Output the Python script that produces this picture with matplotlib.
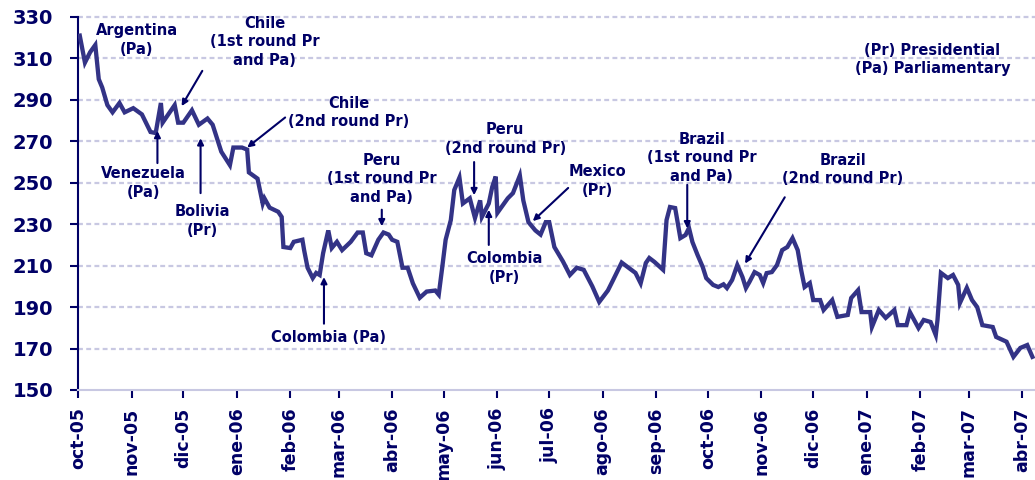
import pandas as pd
import matplotlib
matplotlib.use("Agg")
import matplotlib.pyplot as plt

# series: days since 2005-10-01 and index level
start_date = "2005-10-01"
days = [1, 4, 7, 10, 12, 14, 17, 20, 24, 27, 32, 37, 42, 45, 48, 49, 56, 58, 61, 66,
        70, 75, 78, 83, 88, 90, 95, 98, 99, 104, 107, 108, 111, 116, 118, 119, 123, 125, 130, 131,
        133, 136, 138, 140, 142, 145, 147, 150, 153, 158, 162, 165, 167, 170, 174, 177, 180, 182, 185, 188,
        191, 194, 198, 202, 207, 209, 211, 213, 216, 218, 221, 223, 227, 230, 233, 234, 238, 240, 242, 243,
        249, 252, 256, 258, 261, 265, 268, 271, 273, 276, 281, 285, 289, 293, 298, 302, 307, 310, 315, 319,
        323, 326, 329, 331, 334, 339, 341, 343, 346, 349, 352, 354, 356, 359, 362, 364, 368, 371, 374, 376,
        379, 382, 385, 387, 389, 392, 395, 397, 399, 402, 405, 408, 411, 414, 417, 419, 421, 424, 426, 430,
        432, 437, 440, 446, 448, 452, 454, 459, 460, 464, 468, 473, 475, 480, 482, 487, 490, 494, 497, 498,
        500, 504, 507, 510, 511, 515, 518, 521, 524, 530, 532, 538, 542, 546, 550, 553]
values = [321, 308, 313, 316.5, 300, 296, 287.5, 284, 288.5, 284, 286, 283, 274.5, 274, 288.5, 279, 287.5, 279, 279, 285,
          278, 281, 278, 265, 258.5, 267, 267, 266, 255, 252, 240, 242.5, 238, 236, 233.5, 219, 218.5, 221.5, 222.5, 217.5,
          209, 204, 206.5, 205.5, 216, 227, 218.5, 221.5, 217.5, 221.5, 226, 226, 216, 215, 222.5, 226, 225, 222.5, 221.5, 209,
          209, 201.5, 194.5, 197.5, 198, 196, 209, 222.5, 232, 246.5, 252.5, 240, 242.5, 233, 241.5, 233.5, 240, 248, 253, 235.5,
          242.5, 245, 253.5, 241.5, 231, 227, 225, 231, 231, 219, 212, 205.5, 209, 208, 200, 192.5, 198, 203, 211.5, 209,
          206.5, 201.5, 211.3, 213.7, 211.8, 208, 232, 238.3, 237.8, 223.3, 224.8, 228.2, 221.4, 215.1, 209.3, 204, 200.7, 199.7, 201, 199.2,
          203.1, 210.3, 204.5, 199.2, 202.1, 206.9, 205.5, 201.6, 206.4, 206.9, 210.3, 217.5, 219, 223.3, 217.5, 207.9, 199.7, 201.6, 193.4, 193.4,
          188.6, 193.4, 185.3, 186.2, 194.4, 198.2, 187.6, 187.6, 180.4, 188.6, 184.8, 188.6, 181.3, 181.3, 187.6, 179.9, 183.8, 182.8, 176.5, 183.8,
          206.5, 204, 205.5, 200.7, 192, 199.3, 193.4, 190, 181.3, 180.4, 175.6, 173.3, 166, 170.3, 171.7, 166]

tick_labels = ["oct-05", "nov-05", "dic-05", "ene-06", "feb-06", "mar-06", "abr-06", "may-06", "jun-06", "jul-06",
               "ago-06", "sep-06", "oct-06", "nov-06", "dic-06", "ene-07", "feb-07", "mar-07", "abr-07"]
y_ticks = [150, 170, 190, 210, 230, 250, 270, 290, 310, 330]

navy = "#000066"
line_col = "#333386"
grid_col = "#c8c8e2"

start = pd.Timestamp(start_date)
dates = start + pd.to_timedelta(days, unit="D")
tick_dates = pd.date_range(start, periods=len(tick_labels), freq="MS")


def d(n):
    return start + pd.Timedelta(days=n)


fig = plt.figure(figsize=(10.35, 4.8), dpi=100)
ax = fig.add_axes([0.0754, 0.1875, 0.9246, 0.7771])

for y in y_ticks[1:]:
    ax.axhline(y, color=grid_col, lw=1.6, ls=(0, (2.2, 1.5)), zorder=1, clip_on=False)

ax.plot(dates, values, color=line_col, lw=3.1, zorder=3, solid_joinstyle="miter")

ax.set_xlim(start, d(554.5))
ax.set_ylim(150, 330)
ax.set_yticks(y_ticks)
ax.set_xticks(tick_dates)
ax.set_xticklabels(tick_labels, rotation=90)

for s in ["top", "right"]:
    ax.spines[s].set_visible(False)
ax.spines["left"].set_color(navy)
ax.spines["left"].set_linewidth(1.5)
ax.spines["bottom"].set_color(grid_col)
ax.spines["bottom"].set_linewidth(1.5)

ax.tick_params(axis="y", length=6, width=1.5, color=navy, pad=12)
ax.tick_params(axis="x", length=6, width=1.5, color=navy, pad=6.5)
for lab in ax.get_yticklabels():
    lab.set_fontsize(14)
    lab.set_fontweight("bold")
    lab.set_color(navy)
for lab in ax.get_xticklabels():
    lab.set_fontsize(12.5)
    lab.set_fontweight("bold")
    lab.set_color(navy)

# annotations: (text, text position, arrow tail, arrow tip)
notes = [
    ("Argentina\n(Pa)", (34, 319), None, None),
    ("Chile\n(1st round Pr\nand Pa)", (108, 318), (72, 304), (60, 287)),
    ("Chile\n(2nd round Pr)", (157, 284), (120, 281.5), (98, 267)),
    ("Venezuela\n(Pa)", (38, 250), (46, 259.5), (46, 275)),
    ("Bolivia\n(Pr)", (72, 231.5), (71, 245), (71, 271.5)),
    ("Peru\n(1st round Pr\nand Pa)", (176, 252), (176, 237), (176, 229)),
    ("Colombia (Pa)", (145, 175.5), (142.5, 182), (142.5, 204.5)),
    ("Peru\n(2nd round Pr)", (247.5, 271), (229.5, 260), (229.5, 244)),
    ("Colombia\n(Pr)", (247, 209), (238, 220), (238, 237)),
    ("Mexico\n(Pr)", (301, 251), (284, 247.5), (263.5, 231.5)),
    ("Brazil\n(1st round Pr\nand Pa)", (361.5, 262), (353, 249), (353, 228)),
    ("Brazil\n(2nd round Pr)", (443, 256.5), (409.5, 243), (386.5, 211)),
    ("(Pr) Presidential\n(Pa) Parliamentary", (495, 309.5), None, None),
]
for txt, pos, tail, tip in notes:
    ax.text(d(pos[0]), pos[1], txt, ha="center", va="center", fontsize=10.5,
            fontweight="bold", color=navy, linespacing=1.3, zorder=5)
    if tail is not None:
        ax.annotate("", xy=(d(tip[0]), tip[1]), xytext=(d(tail[0]), tail[1]),
                    arrowprops=dict(arrowstyle="-|>", color=navy, lw=1.5,
                                    mutation_scale=9, shrinkA=0, shrinkB=0),
                    zorder=6)

fig.savefig("out.png", dpi=100)
